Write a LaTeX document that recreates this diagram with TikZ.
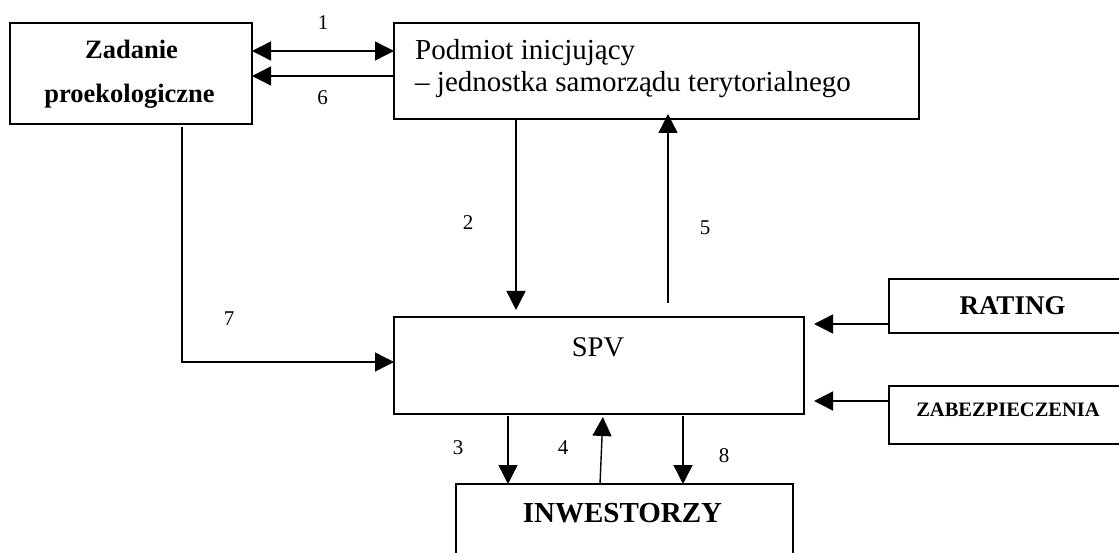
\documentclass[tikz,border=0pt]{standalone}
\usepackage{fontspec}
\setmainfont{Liberation Serif}
\usetikzlibrary{arrows.meta}
\tikzset{
  box/.style={draw, line width=1.6pt, rectangle, inner sep=0pt, outer sep=0pt, anchor=north west},
  arr/.style={-{Triangle[length=19pt,width=19pt]}, line width=1.4pt},
  biarr/.style={{Triangle[length=19pt,width=19pt]}-{Triangle[length=19pt,width=19pt]}, line width=1.4pt},
  num/.style={anchor=base, inner sep=0pt, font=\fontsize{21}{25}\selectfont},
  txt/.style={inner sep=0pt}
}
\begin{document}
\begin{tikzpicture}[x=1pt,y=-1pt]
\useasboundingbox (0,0) rectangle (1119,553);
\clip (0,0) rectangle (1119,553);
% boxes
\node[box, minimum width=242pt, minimum height=101pt] (zad) at (10,23) {};
\node[box, minimum width=525pt, minimum height=96pt] (pod) at (394,23) {};
\node[box, minimum width=410pt, minimum height=97pt] (spv) at (394,317) {};
\node[box, minimum width=337pt, minimum height=120pt] (inw) at (456,484) {};
\node[box, minimum width=250pt, minimum height=54pt] (rat) at (889,279) {};
\node[box, minimum width=250pt, minimum height=58pt] (zab) at (889,386) {};
% texts
\node[txt, anchor=base, font=\bfseries\fontsize{26.5}{30}\selectfont] (t1) at (131.5,58.3) {Zadanie};
\node[txt, anchor=base, font=\bfseries\fontsize{26.5}{30}\selectfont] (t2) at (129.5,102.7) {proekologiczne};
\node[txt, anchor=base west, font=\fontsize{29}{33}\selectfont] (t3) at (415,59.3) {Podmiot inicjujący};
\node[txt, anchor=base west, font=\fontsize{29}{33}\selectfont] (t4) at (415,91.7) {– jednostka samorządu terytorialnego};
\node[txt, anchor=base, font=\fontsize{28.5}{32}\selectfont] (t5) at (598,356) {SPV};
\node[txt, anchor=base, font=\bfseries\fontsize{29}{33}\selectfont] (t6) at (622.5,522.7) {INWESTORZY};
\node[txt, anchor=base, font=\bfseries\fontsize{27}{31}\selectfont] (t7) at (1012.5,315) {RATING};
\node[txt, anchor=base, font=\bfseries\fontsize{20.5}{24}\selectfont] (t8) at (1008,416.7) {ZABEZPIECZENIA};
% numbers
\node[num] (n1) at (323,29.3) {1};
\node[num] (n6) at (322.7,105) {6};
\node[num] (n2) at (468,230) {2};
\node[num] (n5) at (705,235) {5};
\node[num] (n7) at (229,325) {7};
\node[num] (n3) at (458,454) {3};
\node[num] (n4) at (563,454) {4};
\node[num] (n8) at (724,462) {8};
% helper coordinates
\coordinate (y1) at (0,51);
\coordinate (y6) at (0,76);
\coordinate (x2) at (516,0);
\coordinate (x5) at (668,0);
\coordinate (x7) at (182,0);
\coordinate (y7) at (0,362);
\coordinate (x3) at (508,0);
\coordinate (x4a) at (600,0);
\coordinate (x4b) at (603,0);
\coordinate (x8) at (683,0);
\coordinate (yR) at (0,324);
\coordinate (yZ) at (0,401);
% connectors
\draw[biarr] (zad.east |- y1) -- (pod.west |- y1);
\draw[arr] (pod.west |- y6) -- (zad.east |- y6);
\draw[arr, shorten >=7pt] (pod.south -| x2) -- (spv.north -| x2);
\draw[arr, shorten <=14pt, shorten >=-5pt] (spv.north -| x5) -- (pod.south -| x5);
\draw[arr, shorten <=3pt] (zad.south -| x7) |- (spv.west |- y7);
\draw[arr, shorten <=2pt] (spv.south -| x3) -- (inw.north -| x3);
\draw[arr, shorten >=3pt] (inw.north -| x4a) -- (spv.south -| x4b);
\draw[arr, shorten <=2pt] (spv.south -| x8) -- (inw.north -| x8);
\draw[arr, shorten >=10pt] (rat.west |- yR) -- (spv.east |- yR);
\draw[arr, shorten >=10pt] (zab.west |- yZ) -- (spv.east |- yZ);
\end{tikzpicture}
\end{document}
